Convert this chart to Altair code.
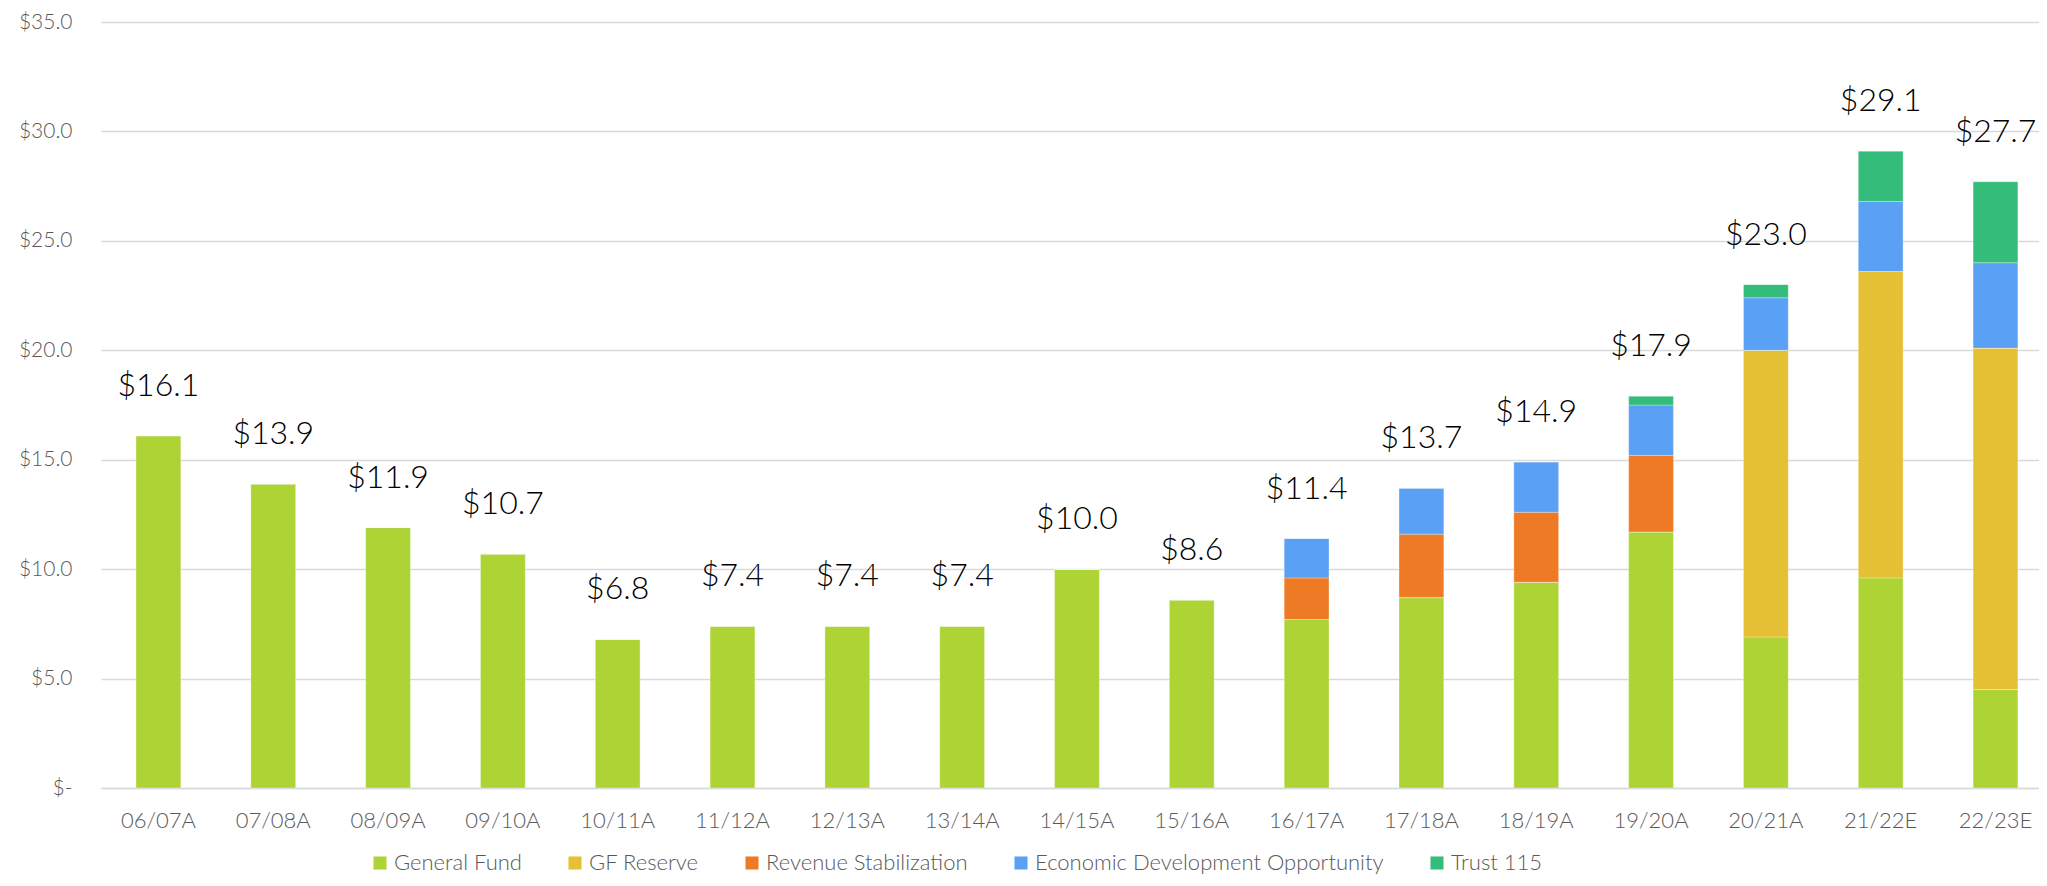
import altair as alt
import pandas as pd

categories = ["06/07A", "07/08A", "08/09A", "09/10A", "10/11A", "11/12A", "12/13A",
              "13/14A", "14/15A", "15/16A", "16/17A", "17/18A", "18/19A", "19/20A",
              "20/21A", "21/22E", "22/23E"]
general_fund = [16.1, 13.9, 11.9, 10.7, 6.8, 7.4, 7.4, 7.4, 10.0, 8.6, 7.7, 8.7, 9.4, 11.7, 6.9, 9.6, 4.5]
gf_reserve = [0, 0, 0, 0, 0, 0, 0, 0, 0, 0, 0, 0, 0, 0, 13.1, 14.0, 15.6]
revenue_stab = [0, 0, 0, 0, 0, 0, 0, 0, 0, 0, 1.9, 2.9, 3.2, 3.5, 0, 0, 0]
econ_dev = [0, 0, 0, 0, 0, 0, 0, 0, 0, 0, 1.8, 2.1, 2.3, 2.3, 2.4, 3.2, 3.9]
trust_115 = [0, 0, 0, 0, 0, 0, 0, 0, 0, 0, 0, 0, 0, 0.4, 0.6, 2.3, 3.7]
totals = [16.1, 13.9, 11.9, 10.7, 6.8, 7.4, 7.4, 7.4, 10.0, 8.6, 11.4, 13.7, 14.9, 17.9, 23.0, 29.1, 27.7]

series_names = ["General Fund", "GF Reserve", "Revenue Stabilization",
                "Economic Development Opportunity", "Trust 115"]
series_values = [general_fund, gf_reserve, revenue_stab, econ_dev, trust_115]
series_colors = ["#ADD434", "#E5C035", "#EE7A26", "#5AA0F4", "#34BC7A"]

rows = []
for si, (name, vals) in enumerate(zip(series_names, series_values)):
    for c, v in zip(categories, vals):
        rows.append({"year": c, "series": name, "order": si, "value": v})
df = pd.DataFrame(rows)
tot_df = pd.DataFrame({"year": categories, "total": totals})

FONT = "Lato, 'Liberation Sans', sans-serif"

x_enc = alt.X("year:N", sort=categories, title=None,
              scale=alt.Scale(paddingInner=0.61, paddingOuter=0.2445, align=0.624),
              axis=alt.Axis(labelAngle=0, labelFontSize=22, labelColor="#595959",
                            labelFont=FONT, labelFontWeight=300, labelPadding=22, ticks=False,
                            domainColor="#D9D9D9", domainWidth=1.5))

bars = alt.Chart(df).mark_bar(stroke="#ffffff", strokeWidth=0.6, strokeOpacity=0.5).encode(
    x=x_enc,
    y=alt.Y("value:Q", stack="zero", title=None,
            scale=alt.Scale(domain=[0, 35], nice=False),
            axis=alt.Axis(values=[0, 5, 10, 15, 20, 25, 30, 35],
                          labelExpr="datum.value == 0 ? '$-\u00a0\u00a0' : '$' + format(datum.value, '.1f')",
                          labelFontSize=21, labelColor="#595959", labelFont=FONT,
                          labelFontWeight=300,
                          labelPadding=29, ticks=False, domain=False,
                          grid=True, gridColor="#D9D9D9", gridWidth=1.5)),
    color=alt.Color("series:N", sort=series_names,
                    scale=alt.Scale(domain=series_names, range=series_colors),
                    legend=alt.Legend(title=None, orient="none", direction="horizontal",
                                      legendX=268, legendY=830,
                                      symbolType="square", symbolSize=170,
                                      symbolStrokeWidth=0, labelFontSize=22,
                                      labelColor="#595959", labelFont=FONT,
                                      labelFontWeight=300, labelLimit=0,
                                      labelOffset=3, columnPadding=42)),
    order=alt.Order("order:Q"),
)

labels = alt.Chart(tot_df).mark_text(
    fontSize=32, font=FONT, fontWeight=300, color="#000000", baseline="alphabetic", dy=-40
).encode(
    x=alt.X("year:N", sort=categories),
    y=alt.Y("total:Q"),
    text=alt.Text("total:Q", format="$.1f"),
)

chart = alt.layer(bars, labels).properties(
    width=1938, height=766,
    autosize=alt.AutoSizeParams(type="none"),
    padding={"left": 93, "top": 14, "right": 0, "bottom": 90},
).configure_view(stroke=None)

chart.save("out.html", embed_options={"renderer": "svg", "actions": False})
